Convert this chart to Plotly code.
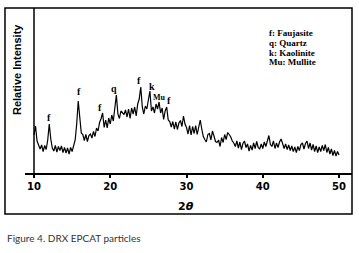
import numpy as np
import plotly.graph_objects as go

# 2-theta scan positions (degrees), 10.0 .. 50.0 step 0.2
two_theta = np.round(np.arange(10.0, 50.0001, 0.2), 1)

# Relative intensity (a.u.)
intensity = [
    380, 470, 320, 270, 240, 280, 215, 275, 235, 330,   # 10.0-11.8
    490, 340, 250, 220, 275, 210, 265, 225, 270, 205,   # 12.0-13.8
    255, 200, 250, 190, 255, 215, 290, 330, 490, 720,   # 14.0-15.8
    560, 400, 385, 325, 385, 315, 375, 390, 350, 415,   # 16.0-17.8
    365, 450, 420, 505, 545, 600, 455, 530, 450, 550,   # 18.0-19.8
    490, 580, 520, 650, 780, 590, 545, 620, 600, 585,   # 20.0-21.8
    630, 560, 640, 545, 650, 590, 660, 570, 690, 740,   # 22.0-23.8
    860, 660, 590, 670, 640, 740, 820, 620, 660, 600,   # 24.0-25.8
    690, 640, 710, 600, 650, 535, 620, 660, 530, 515,   # 26.0-27.8
    460, 515, 440, 510, 435, 500, 525, 465, 570, 490,   # 28.0-29.8
    455, 390, 475, 380, 465, 395, 475, 385, 450, 530,   # 30.0-31.8
    440, 365, 335, 310, 385, 395, 330, 420, 370, 315,   # 32.0-33.8
    305, 330, 265, 355, 305, 385, 335, 405, 385, 360,   # 34.0-35.8
    320, 300, 265, 320, 250, 310, 235, 295, 320, 255,   # 36.0-37.8
    290, 220, 275, 230, 300, 245, 315, 255, 240, 290,   # 38.0-39.8
    245, 310, 265, 325, 375, 285, 265, 320, 245, 300,   # 40.0-41.8
    255, 310, 340, 295, 245, 290, 235, 280, 225, 270,   # 42.0-43.8
    215, 260, 205, 265, 225, 285, 300, 240, 295, 320,   # 44.0-45.8
    245, 300, 230, 285, 215, 270, 205, 260, 215, 275,   # 46.0-47.8
    225, 285, 205, 255, 190, 240, 175, 225, 170, 215,   # 48.0-49.8
    180,                                                # 50.0
]

# Peak labels
peak_labels = ["f", "f", "f", "q", "f", "k", "Mu", "f"]
peak_x = [12.0, 15.9, 18.65, 20.5, 23.8, 25.5, 26.4, 27.75]
peak_y = [560, 820, 660, 850, 930, 870, 760, 730]

legend_lines = ["f: Faujasite", "q: Quartz", "k: Kaolinite", "Mu: Mullite"]
x_ticks = [10, 20, 30, 40, 50]

fig = go.Figure()
fig.add_trace(go.Scatter(
    x=two_theta, y=intensity, mode="lines",
    line=dict(color="black", width=1.2), showlegend=False, hoverinfo="skip",
))

annotations = []
for lab, px, py in zip(peak_labels, peak_x, peak_y):
    annotations.append(dict(
        x=px, y=py, xref="x", yref="y", text=lab, showarrow=False,
        font=dict(family="Liberation Serif", size=8 if lab == "Mu" else 10,
                  color="black", weight="bold"),
        xanchor="center", yanchor="middle",
    ))

leg_y = [0.848, 0.788, 0.727, 0.673]
for txt, ly in zip(legend_lines, leg_y):
    annotations.append(dict(
        x=0.740, y=ly, xref="paper", yref="paper", text=txt, showarrow=False,
        font=dict(family="Liberation Serif", size=9, color="black", weight="bold"),
        xanchor="left", yanchor="middle",
    ))

annotations.append(dict(
    x=-0.0245, y=0.630, xref="paper", yref="paper", text="Relative Intensity",
    showarrow=False, textangle=-90,
    font=dict(family="Liberation Sans", size=11, color="black", weight="bold"),
    xanchor="center", yanchor="middle",
))
annotations.append(dict(
    x=0.492, y=-0.206, xref="paper", yref="paper", text="2<i>θ</i>",
    showarrow=False,
    font=dict(family="DejaVu Sans", size=11, color="black", weight="bold"),
    xanchor="center", yanchor="middle",
))
annotations.append(dict(
    x=-0.0612, y=-0.394, xref="paper", yref="paper",
    text="Figure 4. DRX EPCAT particles", showarrow=False,
    font=dict(family="Lato", size=10, color="#333333"),
    xanchor="left", yanchor="middle",
))

shapes = [
    dict(type="rect", xref="paper", yref="paper", x0=-0.0612, x1=1.0, y0=-0.2485, y1=1.0,
         line=dict(color="black", width=1.5), fillcolor="rgba(0,0,0,0)", layer="above"),
    dict(type="line", xref="x", yref="paper", x0=10, x1=10, y0=-0.01, y1=1.0,
         line=dict(color="black", width=1.5)),
]

fig.update_layout(
    width=359, height=253, autosize=False,
    margin=dict(l=25, r=7, t=8, b=80),
    paper_bgcolor="white", plot_bgcolor="white",
    annotations=annotations, shapes=shapes,
    xaxis=dict(
        range=[8.82, 51.70], tickvals=x_ticks, ticktext=[str(t) for t in x_ticks],
        showgrid=False, zeroline=False, showline=True, linecolor="black", linewidth=1.5,
        ticks="outside", ticklen=3, tickcolor="black", tickwidth=1.5,
        tickfont=dict(family="DejaVu Sans", size=10, color="black", weight="bold"),
        fixedrange=True,
    ),
    yaxis=dict(
        range=[0, 1650], showgrid=False, zeroline=False, showline=False,
        showticklabels=False, ticks="", fixedrange=True,
    ),
)

fig.write_html("out.html", config={"displayModeBar": False},
               post_script="document.body.style.margin='0';document.body.style.overflow='hidden';")
